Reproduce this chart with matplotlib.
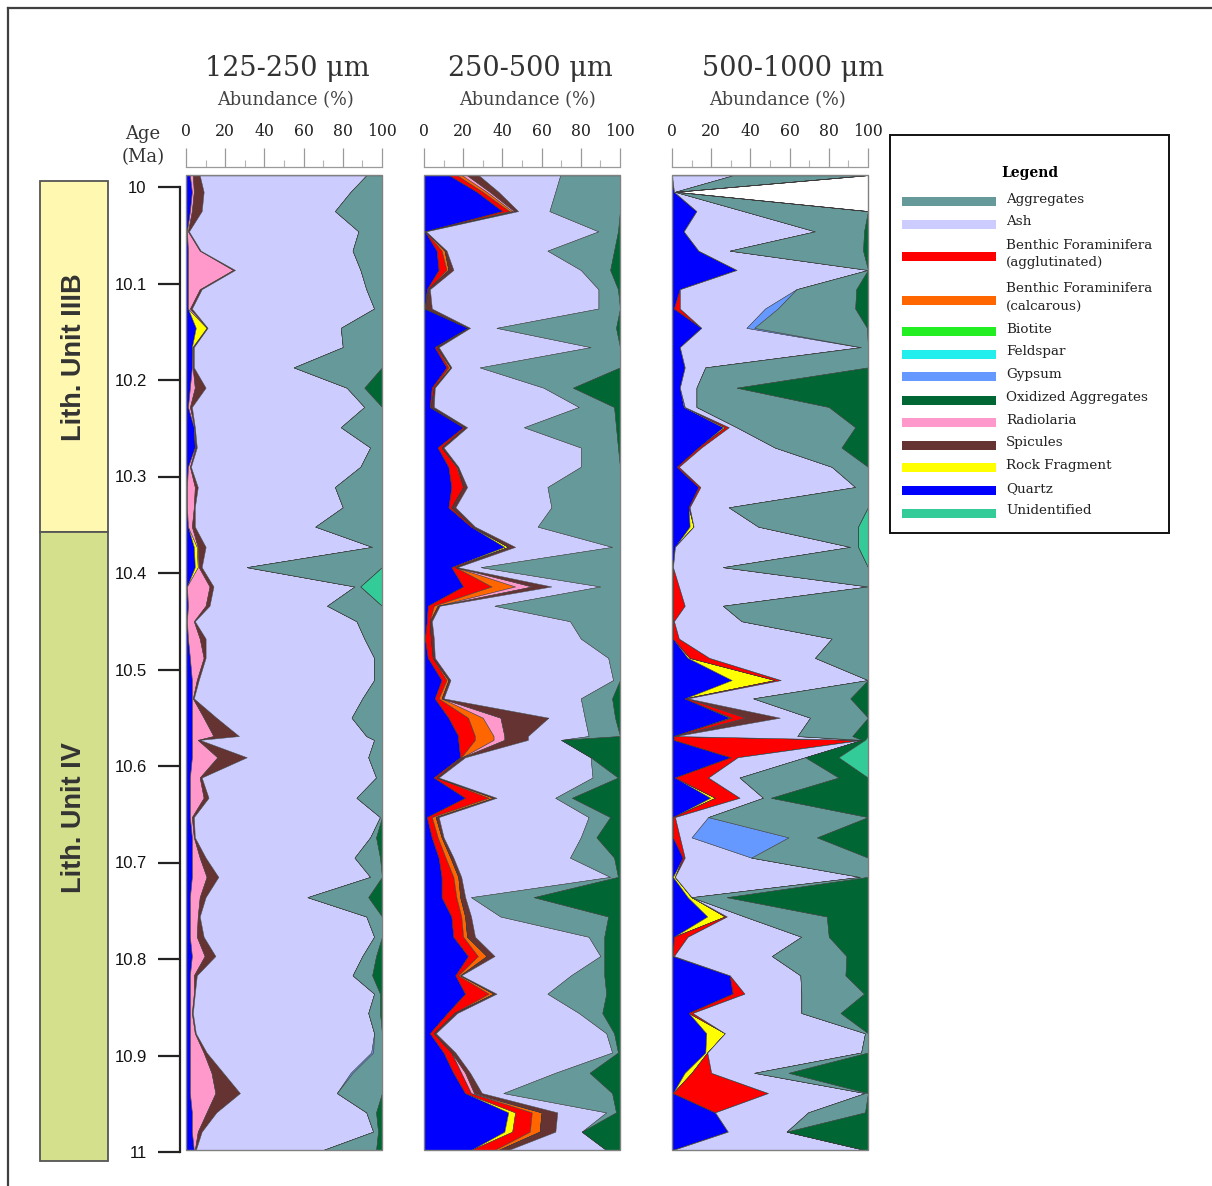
import numpy as np
import matplotlib
matplotlib.use('agg')
import matplotlib.pyplot as plt
from matplotlib.patches import Rectangle
from matplotlib.ticker import MultipleLocator

plt.rcParams['font.family'] = 'DejaVu Serif'

W, H = 1212, 1186

# sample ages (Ma), shared by the three size fractions
AGES = [9.988, 10.005, 10.025, 10.046, 10.066, 10.086, 10.106, 10.126, 10.146, 10.166,
        10.187, 10.208, 10.228, 10.249, 10.270, 10.290, 10.311, 10.332, 10.352, 10.373,
        10.394, 10.414, 10.434, 10.450, 10.468, 10.488, 10.511, 10.530, 10.550, 10.569,
        10.573, 10.591, 10.612, 10.633, 10.653, 10.674, 10.695, 10.715, 10.736, 10.756,
        10.777, 10.797, 10.817, 10.836, 10.856, 10.877, 10.897, 10.918, 10.939, 10.959,
        10.979, 10.998]

# ---- 125-250 um ----
P1_QUARTZ = [2, 3, 2, 0.5, 1, 1, 1, 1, 5, 3,
             3, 2, 1, 4, 4.5, 1, 0.5, 0.5, 1, 4,
             4.5, 0.5, 1, 0.5, 1, 2, 3, 3, 3, 3,
             3, 3, 2, 2, 2, 3, 3, 3, 2, 2,
             2, 3, 2, 2, 2, 2, 2, 2, 2, 3,
             3, 4]
P1_ROCK = {10.146: 5.5, 10.166: 0.3, 10.373: 1.5, 10.394: 1.5}
P1_RADIOLARIA = [1.5, 1, 1, 0.5, 6, 23, 6, 1, 0.3, 0.3,
                 0.4, 2.5, 1, 0.3, 0.3, 1, 4, 3.5, 2, 0.5,
                 0.5, 11.5, 9, 3.5, 6, 7, 2.5, 0.5, 6, 11,
                 3, 13, 5, 7, 1, 1, 4, 7.5, 5, 4,
                 3.5, 6.5, 2, 2, 1, 2.5, 7, 11, 13, 7.5,
                 3, 0.5]
P1_SPICULES = [3.5, 5, 5, 0.5, 0.5, 1, 1, 1, 0.2, 0.4,
               0.6, 5.5, 1, 0.2, 0.7, 0.5, 1.5, 0.5, 1.5, 4,
               1.5, 2, 2, 0.5, 3, 1, 1, 0.5, 6.5, 13,
               1, 15, 1, 2.5, 1, 0.5, 3, 6, 3, 1,
               3.5, 5.5, 1.5, 0.5, 0.5, 0.5, 1.5, 6, 12.5, 5,
               2, 0.5]
P1_ASH = [85, 75, 68, 86.5, 77.5, 64, 84, 93, 68, 76,
          51, 72, 88, 74.5, 88.5, 86.5, 70, 75.5, 61.5, 85,
          23, 72, 60, 82.5, 81, 86, 89.5, 86, 69, 65,
          89, 62, 89, 75.5, 95, 89.5, 76, 77.5, 52, 85,
          87, 75, 79.5, 91.5, 89.5, 91, 84, 65, 49.5, 76.5,
          87.5, 65]
P1_GYPSUM = {10.897: 1, 10.918: 1}
P1_AGGREGATES = [8, 16, 24, 12, 15, 11, 8, 4, 21, 20,
                 45, 9, 9, 21, 6, 11, 24, 20, 34, 5,
                 69, 3, 28, 13, 9, 4, 4, 10, 15.5, 8,
                 4, 7, 3, 13, 1, 3, 13, 6, 31, 8,
                 4, 7, 10, 3, 6, 4, 4.5, 15, 23, 5,
                 2.5, 27]
P1_OXIDIZED = {10.208: 9, 10.674: 3, 10.695: 1, 10.736: 7, 10.797: 3, 10.817: 5,
               10.836: 1, 10.856: 1, 10.959: 3, 10.979: 2, 10.998: 3}
P1_UNIDENTIFIED = {10.414: 11}

# ---- 250-500 um ----
P2_QUARTZ = [13, 27, 40, 0.5, 6.5, 7.5, 1.5, 0.5, 22.5, 5.5,
             11.5, 4, 3, 20, 7, 12.5, 14, 12.5, 24, 41,
             14, 20, 2, 1.5, 0.5, 2, 9, 5.5, 12.5, 17.5,
             17.5, 18.5, 5, 21, 1.5, 4, 7.5, 9, 9, 14,
             15, 22.5, 16, 21, 12, 3, 10, 15, 21, 43,
             41, 24]
P2_ROCK = {10.373: 2, 10.959: 3.5, 10.979: 4}
P2_BENTHIC_AGG = [4, 3, 3.5, 0.3, 2.5, 4, 0.5, 0, 0, 1,
                  1, 1, 0.5, 1, 2, 4, 6, 1.5, 1, 0,
                  2, 14.5, 3, 1.5, 3, 2.5, 2.5, 2, 10, 8.5,
                  8.5, 0.5, 1.5, 12, 2.5, 3, 3.5, 6, 7.5, 5,
                  5, 5, 1.5, 12, 3.5, 2, 4, 4, 3, 8.5,
                  9, 12]
P2_BENTHIC_CALC = [2.5, 2, 1.5, 0, 1.5, 1, 0, 0, 0, 0,
                   1, 0, 0, 0, 0, 0.5, 0, 0, 0, 0,
                   0, 12, 2, 0, 0, 0, 1, 1.5, 7.5, 9.5,
                   9.5, 0.5, 0, 2.5, 2, 2, 2.5, 2.5, 2, 2,
                   2, 4.5, 1, 2.5, 0, 0, 0, 0, 0, 5,
                   5, 2]
P2_RADIOLARIA = {9.988: 2.5, 10.005: 1.5, 10.025: 1, 10.414: 8.5, 10.550: 9,
                 10.569: 5.5, 10.573: 5.5, 10.918: 2, 10.939: 1.5}
P2_SPICULES = [6, 4.5, 2, 0.2, 1, 2.5, 1, 3.5, 1, 1,
               0.5, 0.5, 1.5, 1, 1, 0.5, 2, 2, 1, 3.5,
               1, 10, 1, 1, 1.5, 1, 1, 1, 24.5, 12,
               12, 1.5, 1, 1.5, 1.5, 1, 1.5, 1.5, 2.5, 3,
               4, 4, 0.5, 1.5, 1.5, 1, 2, 2.5, 4, 8,
               8, 5]
P2_ASH = [41.5, 29, 16, 88, 51.5, 65, 86, 85, 13.5, 77.5,
          14.5, 55.5, 74, 29, 70, 62.5, 41, 49, 32, 49.5,
          12, 25, 28, 70.5, 75, 88.5, 83, 70, 18.5, 31,
          17, 64, 78.5, 30, 76.5, 70, 59.5, 76, 3, 15,
          58, 54, 56, 26, 62, 87, 80, 43.5, 11, 25,
          13.5, 50]
P2_AGGREGATES = [30.5, 33, 36, 10, 34, 15, 10, 11, 61, 15,
                 71.5, 15, 18, 47, 19, 20, 37, 35, 42, 4,
                 71, 10, 64, 25.5, 20, 6, 3.5, 16, 15.5, 16,
                 0, 0, 13, 8.5, 11, 8, 22.5, 4, 32, 55,
                 8, 2, 17, 30, 12, 4, 3, 17.5, 55.5, 5,
                 0, 0]
P2_OXIDIZED = [0, 0, 0, 1, 3, 5, 1, 0, 2, 0,
               0, 24, 3, 2, 1, 0, 0, 0, 0, 0,
               0, 0, 0, 0, 0, 0, 0, 4, 2.5, 0,
               30, 15, 1, 24.5, 5, 12, 3, 1, 44, 6,
               8, 8, 8, 7, 9, 3, 1, 15.5, 4, 2,
               19.5, 7]

# ---- 500-1000 um ----
P3_QUARTZ = [0, 1, 12.5, 6, 13.5, 33, 4, 1, 15, 4,
             6.5, 4, 6, 26, 13.5, 2.5, 13.5, 8.5, 9, 1.5,
             0.5, 0.5, 0.5, 0.5, 0.5, 8, 30.5, 6.5, 29.5, 1,
             1, 30, 1.5, 19.5, 0.5, 0.5, 5.5, 0.5, 8, 18,
             1, 0.5, 29.5, 31, 8.5, 17.5, 17, 6.5, 0.5, 22,
             28.5, 0.5]
P3_ROCK = {10.228: 0.5, 10.249: 1, 10.352: 2, 10.488: 1, 10.511: 22, 10.633: 2.5,
           10.715: 1, 10.736: 2, 10.756: 9, 10.877: 9.5, 10.897: 1, 10.918: 3.5}
P3_BIOTITE = {10.550: 1}
P3_BENTHIC_AGG = [0, 0, 0, 0, 0, 0, 0, 3, 0, 0,
                  0, 0, 0, 2, 1.5, 1, 1, 0.5, 0, 0,
                  0, 3, 6, 0.5, 3, 10, 3, 1.5, 7, 0.5,
                  95.5, 3.5, 17, 12.5, 1, 3.5, 1, 0, 0, 1,
                  7, 0.5, 0, 6, 2, 0, 0, 10, 48.5, 0,
                  0, 0]
P3_SPICULES = {10.550: 17.5, 10.569: 0.5, 10.573: 0.5}
P3_ASH = [31, 0.5, 24, 67, 16, 67, 59.5, 43.5, 23, 92,
          10.5, 8.5, 6, 4, 37.5, 78, 79, 20, 33, 89.5,
          25.5, 96.5, 19.5, 34.5, 78, 54, 44.5, 33.5, 15.5, 62,
          0, 34.5, 16, 12, 17, 6, 34, 94.5, 0, 9,
          58, 50, 36, 29, 55.5, 71.5, 78.5, 22, 49.5, 47.5,
          30, 98]
P3_GYPSUM = {10.126: 6.5, 10.146: 4, 10.166: 0.5, 10.674: 49.5}
P3_AGGREGATES = [67.5, 0.5, 63.5, 25, 68, 0, 30.5, 39.5, 57.5, 3.5,
                 83, 20.5, 67.5, 60.5, 34, 18.5, 6.5, 71, 51, 4,
                 74, 0, 74, 64.5, 18.5, 27, 0, 49.5, 29.5, 28,
                 0, 0, 50.5, 4, 81.5, 14.5, 59.5, 4, 18, 42,
                 14, 38, 23, 32, 20, 1.5, 3.5, 17.5, 1.5, 29,
                 0, 0]
P3_OXIDIZED = [0, 0, 0, 2, 2.5, 0, 6, 6.5, 0.5, 0,
               0, 67, 20, 6.5, 13.5, 0, 0, 0, 0, 0,
               0, 0, 0, 0, 0, 0, 0, 9, 0, 8,
               1.5, 17, 15, 49.5, 0, 26, 0, 0, 72, 21,
               20, 11, 11.5, 2, 14, 0, 0, 40.5, 0, 1.5,
               41.5, 1.5]
P3_UNIDENTIFIED = {10.352: 5, 10.373: 5, 10.573: 1.5, 10.591: 15}

PANEL_TITLES = ['125-250 \u03bcm', '250-500 \u03bcm', '500-1000 \u03bcm']

# stacking order, left to right
STACK = ['Quartz', 'Rock Fragment', 'Biotite', 'Feldspar', 'Benthic agg', 'Benthic calc',
         'Radiolaria', 'Spicules', 'Ash', 'Gypsum', 'Aggregates', 'Oxidized Aggregates',
         'Unidentified']

COLORS = {
    'Aggregates': '#669999',
    'Ash': '#ccccff',
    'Benthic agg': '#ff0000',
    'Benthic calc': '#ff6600',
    'Biotite': '#22ee22',
    'Feldspar': '#22eeee',
    'Gypsum': '#6699ff',
    'Oxidized Aggregates': '#006633',
    'Radiolaria': '#ff99cc',
    'Spicules': '#663333',
    'Rock Fragment': '#ffff00',
    'Quartz': '#0000ff',
    'Unidentified': '#33cc99',
}

LEGEND_KEYS = ['Aggregates', 'Ash', 'Benthic agg', 'Benthic calc', 'Biotite', 'Feldspar',
               'Gypsum', 'Oxidized Aggregates', 'Radiolaria', 'Spicules', 'Rock Fragment',
               'Quartz', 'Unidentified']
LEGEND_LABELS = ['Aggregates', 'Ash', 'Benthic Foraminifera\n(agglutinated)',
                 'Benthic Foraminifera\n(calcarous)', 'Biotite', 'Feldspar', 'Gypsum',
                 'Oxidized Aggregates', 'Radiolaria', 'Spicules', 'Rock Fragment', 'Quartz',
                 'Unidentified']


def expand(d):
    return [d.get(a, 0) for a in AGES]


panels = [
    {'Quartz': P1_QUARTZ, 'Rock Fragment': expand(P1_ROCK), 'Radiolaria': P1_RADIOLARIA,
     'Spicules': P1_SPICULES, 'Ash': P1_ASH, 'Gypsum': expand(P1_GYPSUM),
     'Aggregates': P1_AGGREGATES, 'Oxidized Aggregates': expand(P1_OXIDIZED),
     'Unidentified': expand(P1_UNIDENTIFIED)},
    {'Quartz': P2_QUARTZ, 'Rock Fragment': expand(P2_ROCK), 'Benthic agg': P2_BENTHIC_AGG,
     'Benthic calc': P2_BENTHIC_CALC, 'Radiolaria': expand(P2_RADIOLARIA),
     'Spicules': P2_SPICULES, 'Ash': P2_ASH, 'Aggregates': P2_AGGREGATES,
     'Oxidized Aggregates': P2_OXIDIZED},
    {'Quartz': P3_QUARTZ, 'Rock Fragment': expand(P3_ROCK), 'Biotite': expand(P3_BIOTITE),
     'Benthic agg': P3_BENTHIC_AGG, 'Spicules': expand(P3_SPICULES), 'Ash': P3_ASH,
     'Gypsum': expand(P3_GYPSUM), 'Aggregates': P3_AGGREGATES,
     'Oxidized Aggregates': P3_OXIDIZED, 'Unidentified': expand(P3_UNIDENTIFIED)},
]

fig = plt.figure(figsize=(W / 100, H / 100), dpi=100)

# background layer in pixel coordinates for frame, unit column and legend
bg = fig.add_axes([0, 0, 1, 1])
bg.set_xlim(0, W)
bg.set_ylim(H, 0)
bg.axis('off')
bg.plot([8, W], [8, 8], color='#404040', lw=1.6)
bg.plot([8, 8], [8, H], color='#404040', lw=1.6)

bg.add_patch(Rectangle((40, 181), 68, 351, facecolor='#fff8b0', edgecolor='#555555', lw=1.3))
bg.add_patch(Rectangle((40, 532), 68, 629, facecolor='#d5e08c', edgecolor='#555555', lw=1.3))
bg.text(74, 357, 'Lith. Unit IIIB', rotation=90, ha='center', va='center',
        fontsize=19.5, fontweight='bold', family='Liberation Sans', color='#333333')
bg.text(74, 818, 'Lith. Unit IV', rotation=90, ha='center', va='center',
        fontsize=19.5, fontweight='bold', family='Liberation Sans', color='#333333')

bg.text(143, 134, 'Age', ha='center', va='center', fontsize=13, color='#333333')
bg.text(143, 157, '(Ma)', ha='center', va='center', fontsize=13, color='#333333')

# legend box
bg.add_patch(Rectangle((890, 135), 279, 398, fill=False, edgecolor='#111111', lw=1.4))
bg.text(1030, 173, 'Legend', ha='center', va='center', fontsize=10, fontweight='bold')
bar_y = [201.7, 224, 256.7, 300, 331.7, 354, 376.7, 400, 422.7, 445, 467.7, 490.7, 513.3]
for key, label, y in zip(LEGEND_KEYS, LEGEND_LABELS, bar_y):
    bg.add_patch(Rectangle((902, y - 4.5), 94, 9, facecolor=COLORS[key], edgecolor='none'))
    bg.text(1006, y - 2.5, label, ha='left', va='center', fontsize=9.7,
            linespacing=1.45, color='#222222')

# panels
lefts = [186, 424, 672]
title_x = [287, 530, 793]
sub_x = [285, 527, 777]
for k, series in enumerate(panels):
    ax = fig.add_axes([lefts[k] / W, 1 - 1150 / H, 196 / W, 975 / H])
    ys = np.array(AGES)
    cum = np.zeros(len(AGES))
    for name in STACK:
        if name not in series:
            continue
        vals = np.array(series[name], dtype=float)
        ax.fill_betweenx(ys, cum, cum + vals, facecolor=COLORS[name],
                         edgecolor='#3c3c3c', linewidth=0.35)
        cum = cum + vals
    ax.set_xlim(0, 100)
    ax.set_ylim(10.998, 9.9876)
    ax.set_yticks([])
    for s in ['left', 'right', 'bottom']:
        ax.spines[s].set_visible(False)
    ax.spines['top'].set_position(('outward', 5.8))
    ax.spines['top'].set_color('#9a9a9a')
    ax.spines['top'].set_linewidth(0.9)
    ax.xaxis.set_ticks_position('top')
    ax.set_xticks([0, 20, 40, 60, 80, 100])
    ax.xaxis.set_minor_locator(MultipleLocator(10))
    ax.tick_params(axis='x', which='major', direction='out', length=13.7, width=0.9,
                   color='#9a9a9a', pad=6, labelsize=11.3, labelcolor='#222222')
    ax.tick_params(axis='x', which='minor', direction='out', length=5, width=0.8,
                   color='#b5b5b5')
    ax.add_patch(Rectangle((0, 0), 1, 1, transform=ax.transAxes, fill=False,
                           edgecolor='#808080', lw=1.0, zorder=10, clip_on=False))
    fig.text(title_x[k] / W, 1 - 68 / H, PANEL_TITLES[k], ha='center', va='center',
             fontsize=19.5, color='#333333')
    fig.text(sub_x[k] / W, 1 - 100 / H, 'Abundance (%)', ha='center', va='center',
             fontsize=12.8, color='#444444')

# age axis
AGE_TICKS = [10, 10.1, 10.2, 10.3, 10.4, 10.5, 10.6, 10.7, 10.8, 10.9, 11]
AGE_LABELS = ['10', '10.1', '10.2', '10.3', '10.4', '10.5', '10.6', '10.7', '10.8', '10.9', '11']
ax_age = fig.add_axes([180 / W, 1 - 1152 / H, 1 / W, 965 / H])
ax_age.patch.set_visible(False)
ax_age.set_ylim(11, 10)
ax_age.set_yticks(AGE_TICKS)
ax_age.set_yticklabels(AGE_LABELS, family='Liberation Sans', fontsize=12, color='#111111')
ax_age.set_xticks([])
for s in ['top', 'right', 'bottom']:
    ax_age.spines[s].set_visible(False)
ax_age.spines['left'].set_linewidth(1.6)
ax_age.spines['left'].set_color('#222222')
ax_age.tick_params(axis='y', direction='out', length=16, width=1.6, color='#222222', pad=8)

fig.savefig('out.png', dpi=100)
